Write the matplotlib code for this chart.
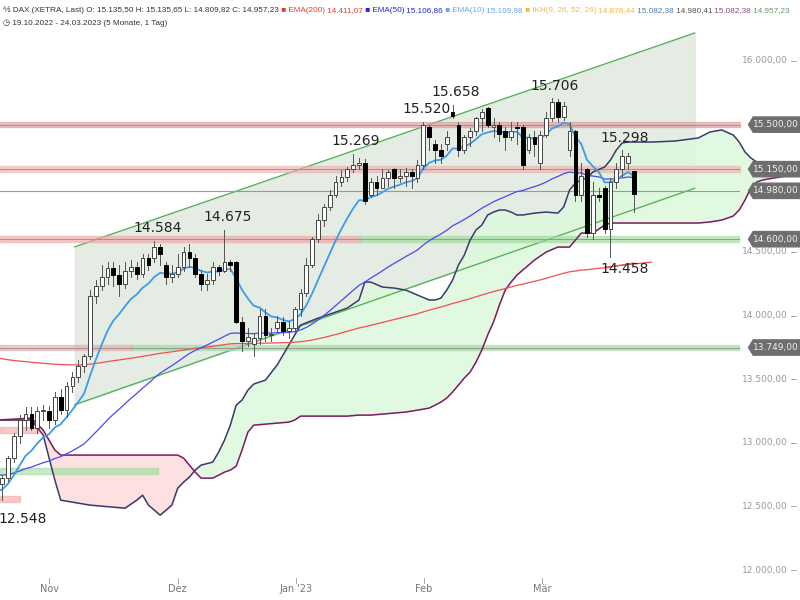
import numpy as np
import pandas as pd
import matplotlib
matplotlib.use("Agg")
import matplotlib.pyplot as plt
from matplotlib.patches import Rectangle, Polygon

# daily candles 19.10.2022 - 24.03.2023 (open, high, low, close)
candles = [
    (12760, 12800, 12620, 12680), (12680, 12750, 12548, 12720), (12720, 12900, 12700, 12880),
    (12880, 13080, 12850, 13050), (13050, 13220, 13000, 13180), (13180, 13280, 13100, 13230),
    (13230, 13280, 13100, 13120), (13120, 13280, 13080, 13250), (13250, 13300, 13180, 13260),
    (13250, 13290, 13120, 13180), (13180, 13400, 13150, 13360), (13360, 13420, 13230, 13260),
    (13260, 13480, 13200, 13450), (13450, 13560, 13400, 13520), (13520, 13650, 13480, 13600),
    (13600, 13700, 13560, 13680), (13680, 14200, 13660, 14150), (14150, 14280, 14100, 14230),
    (14230, 14400, 14200, 14300), (14300, 14420, 14250, 14370), (14370, 14420, 14230, 14320),
    (14320, 14400, 14150, 14250), (14250, 14420, 14220, 14350), (14350, 14440, 14300, 14380),
    (14380, 14420, 14290, 14330), (14330, 14480, 14300, 14450), (14450, 14480, 14360, 14400),
    (14450, 14584, 14420, 14540), (14540, 14560, 14400, 14480), (14400, 14420, 14250, 14300),
    (14300, 14400, 14260, 14330), (14330, 14480, 14300, 14380), (14380, 14540, 14350, 14500),
    (14500, 14560, 14380, 14450), (14450, 14480, 14300, 14330), (14330, 14360, 14200, 14250),
    (14250, 14330, 14200, 14280), (14280, 14420, 14250, 14380), (14380, 14400, 14320, 14350),
    (14350, 14675, 14340, 14420), (14420, 14440, 14350, 14400), (14420, 14430, 13940, 13950),
    (13950, 13990, 13720, 13800), (13800, 13900, 13760, 13830), (13780, 13860, 13680, 13820),
    (13820, 14050, 13780, 14000), (14000, 14050, 13800, 13850), (13850, 13900, 13800, 13850),
    (13900, 14000, 13880, 13950), (13950, 13990, 13850, 13880), (13880, 13960, 13820, 13900),
    (13900, 14070, 13870, 14050), (14050, 14210, 14000, 14180), (14180, 14450, 14150, 14400),
    (14400, 14620, 14380, 14600), (14600, 14800, 14580, 14750), (14750, 14880, 14700, 14850),
    (14850, 14990, 14830, 14950), (14950, 15100, 14930, 15050), (15050, 15140, 15020, 15090),
    (15090, 15170, 15060, 15150), (15150, 15269, 15130, 15180), (15180, 15240, 15150, 15200),
    (15200, 15230, 14880, 14900), (14950, 15080, 14930, 15050), (15050, 15100, 14950, 15000),
    (15000, 15150, 15000, 15080), (15080, 15140, 15020, 15130), (15150, 15160, 15000, 15080),
    (15080, 15150, 15050, 15100), (15100, 15160, 15020, 15130), (15130, 15150, 15000, 15100),
    (15080, 15220, 15050, 15180), (15180, 15520, 15150, 15500), (15480, 15500, 15300, 15400),
    (15350, 15380, 15200, 15300), (15300, 15350, 15200, 15250), (15350, 15450, 15300, 15400),
    (15600, 15658, 15550, 15570), (15500, 15520, 15250, 15300), (15300, 15420, 15280, 15400),
    (15400, 15470, 15330, 15450), (15450, 15560, 15420, 15550), (15550, 15620, 15450, 15600),
    (15630, 15640, 15480, 15500), (15480, 15550, 15400, 15500), (15500, 15520, 15370, 15430),
    (15450, 15480, 15300, 15400), (15400, 15520, 15380, 15450), (15480, 15520, 15350, 15470),
    (15480, 15500, 15150, 15180), (15300, 15430, 15280, 15400), (15400, 15450, 15250, 15350),
    (15200, 15450, 15150, 15420), (15420, 15600, 15400, 15550), (15550, 15706, 15530, 15680),
    (15680, 15700, 15520, 15560), (15560, 15680, 15540, 15650), (15300, 15520, 15250, 15450),
    (15450, 15460, 14900, 14950), (14950, 15200, 14900, 15100), (15150, 15160, 14620, 14650),
    (14650, 15050, 14600, 14950), (14950, 15000, 14900, 14930), (15000, 15020, 14650, 14680),
    (14680, 15080, 14458, 15050), (15050, 15200, 15000, 15150), (15150, 15298, 15100, 15250),
    (15200, 15280, 15150, 15250), (15135.50, 15135.65, 14809.82, 14957.23),
]
df = pd.DataFrame(candles, columns=["open", "high", "low", "close"])

# EMA start values carried over from the history before 19.10.2022
ema10_start = 12600
ema50_start = 12750
ema200_start = 13680

# Ichimoku cloud (Senkou A / B), bar index incl. 26 bars ahead
cloud_x = [0, 6, 8, 10, 11, 16, 22, 24, 25, 26, 28, 29, 30, 31, 32, 33, 34, 35, 37, 38, 39, 40,
           41, 42, 43, 44, 46, 48, 50, 51, 52, 55, 58, 60, 62, 63, 64, 66, 68, 70, 72, 74, 75,
           76, 77, 78, 79, 80, 81, 82, 83, 84, 85, 86, 87, 88, 89, 90, 92, 94, 96, 97, 98, 99,
           100, 101, 102, 104, 105, 106, 107, 108, 110, 112, 116, 120, 122, 124, 126, 127, 128,
           129, 130, 131, 133, 135, 136]
span_a = [13179, 13179, 13061, 12707, 12550, 12511, 12487, 12550, 12589, 12511, 12432, 12471,
          12511, 12644, 12691, 12731, 12786, 12825, 12849, 12927, 13021, 13139, 13296, 13336,
          13414, 13462, 13493, 13611, 13768, 13847, 13925, 13980, 14027, 14059, 14122, 14263,
          14263, 14224, 14216, 14200, 14161, 14122, 14122, 14137, 14200, 14279, 14397, 14475,
          14593, 14672, 14711, 14790, 14813, 14829, 14829, 14813, 14790, 14790, 14805, 14813,
          14805, 14853, 14986, 15041, 15065, 15081, 15128, 15167, 15222, 15301, 15356, 15363,
          15363, 15363, 15371, 15395, 15442, 15458, 15418, 15363, 15285, 15238, 15206, 15183,
          15167, 15159, 15159]
span_b = [13179, 13194, 13100, 12943, 12904, 12904, 12904, 12904, 12904, 12904, 12904, 12904,
          12904, 12904, 12880, 12825, 12770, 12723, 12723, 12746, 12770, 12786, 12817, 12943,
          13084, 13139, 13147, 13155, 13163, 13179, 13210, 13210, 13210, 13210, 13218, 13218,
          13218, 13226, 13234, 13242, 13257, 13273, 13296, 13320, 13352, 13399, 13454, 13509,
          13556, 13634, 13729, 13847, 13949, 14082, 14200, 14263, 14318, 14357, 14436, 14499,
          14538, 14538, 14538, 14593, 14648, 14648, 14648, 14711, 14727, 14727, 14727, 14727,
          14727, 14727, 14727, 14727, 14735, 14750, 14782, 14829, 14908, 15002, 15049, 15065,
          15081, 15096, 15104]

# trend channel
chan_x = [13.4, 119.4]
chan_low = [13300, 15000]
chan_high = [14540, 16220]

levels = [15500, 15150, 14980, 14600, 13749]
peaks = [(4, 12548, "12.548"), (27, 14584, "14.584"), (39, 14675, "14.675"), (61, 15269, "15.269"),
         (73, 15520, "15.520"), (78, 15658, "15.658"), (95, 15706, "15.706"), (107, 15298, "15.298")]
axis_ticks = [16000, 15500, 15150, 14980, 14600, 14500, 14000, 13749, 13500, 13000, 12500, 12000]
month_pos = [9, 31, 51.2, 73.1, 93.3]
month_names = ["Nov", "Dez", "Jan '23", "Feb", "Mär"]


def fmt(v):
    return f"{v:,.2f}".replace(",", "X").replace(".", ",").replace("X", ".")


fig = plt.figure(figsize=(8, 6), dpi=100)
ax = fig.add_axes([0, 0.033, 1, 0.967])
xmin, xmax = 0.62, 137.4
ax.set_xlim(xmin, xmax)
ax.set_ylim(11921, 16479)
ax.axis("off")

# channel
ax.fill_between(chan_x, chan_low, chan_high, color="#dfe8dc", alpha=0.8, zorder=1)
ax.plot(chan_x, chan_low, color="#4caf50", lw=0.9, zorder=2)
ax.plot(chan_x, chan_high, color="#4caf50", lw=0.9, zorder=2)

# cloud
ca, cb = np.array(span_a), np.array(span_b)
ax.fill_between(cloud_x, ca, cb, where=ca >= cb, interpolate=True, color="#dcf8dc", alpha=0.85, zorder=1)
ax.fill_between(cloud_x, ca, cb, where=ca < cb, interpolate=True, color="#fde0e0", zorder=1)
ax.plot(cloud_x, span_a, color="#3b3b6b", lw=1.1, zorder=3)
ax.plot(cloud_x, span_b, color="#7d1a60", lw=1.1, zorder=3)

# support / resistance zones
band = 22
ax.add_patch(Rectangle((xmin, 15500 - band), 126.5, 2 * band, color="#e09a9a", alpha=0.6, zorder=2))
ax.add_patch(Rectangle((xmin, 15150 - band), 126.5, 2 * band, color="#f0b0b0", alpha=0.6, zorder=2))
ax.add_patch(Rectangle((xmin, 14600 - band), 61.5, 2 * band, color="#f2a5a5", alpha=0.6, zorder=2))
ax.add_patch(Rectangle((62, 14600 - band), 65, 2 * band, color="#9fdc9f", alpha=0.6, zorder=2))
ax.add_patch(Rectangle((xmin, 13749 - band), 22.5, 2 * band, color="#f2a5a5", alpha=0.6, zorder=2))
ax.add_patch(Rectangle((23, 13749 - band), 104, 2 * band, color="#9fdc9f", alpha=0.6, zorder=2))
ax.add_patch(Rectangle((xmin, 13100 - band), 6.5, 2 * band, color="#f2a5a5", alpha=0.6, zorder=2))
ax.add_patch(Rectangle((xmin, 12780 - band), 27, 2 * band, color="#9fdc9f", alpha=0.6, zorder=2))
ax.add_patch(Rectangle((xmin, 12560 - band), 3.5, 2 * band, color="#f2a5a5", alpha=0.6, zorder=2))
for lv in levels:
    ax.plot([xmin, 127], [lv, lv], color="#999999", lw=0.8, zorder=2)

# EMAs
ema10 = pd.concat([pd.Series([ema10_start]), df["close"]]).ewm(span=10, adjust=False).mean().iloc[1:]
ema50 = pd.concat([pd.Series([ema50_start]), df["close"]]).ewm(span=50, adjust=False).mean().iloc[1:]
ema200 = pd.concat([pd.Series([ema200_start]), df["close"]]).ewm(span=200, adjust=False).mean().iloc[1:]
idx = np.arange(len(df))
ax.plot(idx, ema200.values, color="#f05050", lw=0.9, zorder=4)
ax.plot(idx, ema50.values, color="#4a4af0", lw=0.9, zorder=4)
ax.plot(idx, ema10.values, color="#3d9be9", lw=1.3, zorder=4)

# candles
for i, r in df.iterrows():
    up = r["close"] >= r["open"]
    ax.plot([i, i], [r["low"], r["high"]], color="#555555", lw=0.7, zorder=5)
    lo, hi = min(r["open"], r["close"]), max(r["open"], r["close"])
    ax.add_patch(Rectangle((i - 0.32, lo), 0.64, max(hi - lo, 8), facecolor="white" if up else "black",
                           edgecolor="#444444" if up else "black", lw=0.7, zorder=6))

# peak labels
for i, v, t in peaks:
    off = -95 if v < 13000 else 45
    ax.text(i + 0.5, v + off, t, ha="center", va="bottom" if off > 0 else "top", fontsize=10,
            color="#222222", zorder=7)
ax.text(107.5, 14420, "14.458", ha="center", va="top", fontsize=10, color="#222222", zorder=7)
ax.plot([104, 112], [14380, 14420], color="#f05050", lw=0.9, zorder=4)

# right price axis
for t in axis_ticks:
    if t in levels:
        ax.add_patch(Polygon([[128.6, t], [129.4, t + 60], [137.4, t + 60], [137.4, t - 60], [129.4, t - 60]],
                             closed=True, color="#6e6e6e", zorder=8))
        ax.text(133.3, t, fmt(t), ha="center", va="center", fontsize=6.5, color="#f0f0f0", zorder=9)
    else:
        ax.text(135.3, t, fmt(t), ha="right", va="center", fontsize=6.5, color="#999999", zorder=9)
        ax.plot([135.8, 136.8], [t, t], color="#999999", lw=0.6, zorder=9)

# month axis
for p, n in zip(month_pos, month_names):
    fig.text((p - xmin) / (xmax - xmin), 0.013, n, ha="center", fontsize=7, color="#777777")
    fig.add_artist(plt.Line2D([(p - xmin) / (xmax - xmin)] * 2, [0.028, 0.036], color="#999999", lw=0.6))

# header
fam = ["Liberation Sans", "DejaVu Sans", "Noto Sans"]
items = [("⅍ DAX (XETRA, Last) O: 15.135,50 H: 15.135,65 L: 14.809,82 C: 14.957,23", "#333333"),
         (" ■ EMA(200)", "#e53935"), (" 14.411,07", "#e53935"), (" ■ EMA(50)", "#2222dd"),
         (" 15.106,86", "#2222dd"), (" ■ EMA(10)", "#64a8f0"), (" 15.109,98", "#64a8f0"),
         (" ■ IKH(9, 26, 52, 26)", "#f5b942"), (" 14.878,44", "#f5b942"), (" 15.082,38", "#4a7ab0"),
         (" 14.980,41", "#555555"), (" 15.082,38", "#8a4a8a"), (" 14.957,23", "#6a9a6a")]
fig.canvas.draw()
r = fig.canvas.get_renderer()
x = 0.004
for s, c in items:
    t = fig.text(x, 0.983, s, fontsize=5.9, color=c, va="center", family=fam)
    x += t.get_window_extent(r).width / fig.bbox.width
fig.text(0.004, 0.962, "◷ 19.10.2022 - 24.03.2023 (5 Monate, 1 Tag)", fontsize=5.9, color="#333333",
         va="center", family=fam)

fig.savefig("out.png", dpi=100)
